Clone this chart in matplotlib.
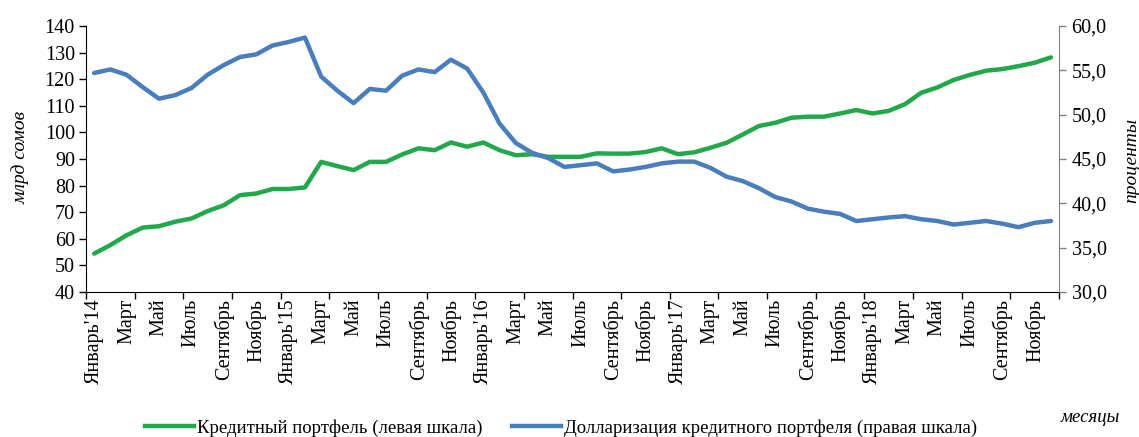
import matplotlib.pyplot as plt
from matplotlib.ticker import FixedLocator, FuncFormatter
from matplotlib.lines import Line2D

plt.rcParams["font.family"] = ["Liberation Serif", "DejaVu Serif"]

# ── Данные ───────────────────────────────────────────────────────────────────
month_labels = ["Январь'14", "Март", "Май", "Июль", "Сентябрь", "Ноябрь",
                "Январь'15", "Март", "Май", "Июль", "Сентябрь", "Ноябрь",
                "Январь'16", "Март", "Май", "Июль", "Сентябрь", "Ноябрь",
                "Январь'17", "Март", "Май", "Июль", "Сентябрь", "Ноябрь",
                "Январь'18", "Март", "Май", "Июль", "Сентябрь", "Ноябрь"]

# кредитный портфель, млрд сомов (левая шкала), январь 2014 – декабрь 2018
credit = [54.4, 57.6, 61.3, 64.2, 64.7, 66.4, 67.6, 70.4, 72.6, 76.4,
          77.0, 78.7, 78.7, 79.3, 88.9, 87.3, 85.8, 88.9, 88.9, 91.7,
          94.0, 93.3, 96.2, 94.6, 96.2, 93.3, 91.4, 91.8, 90.8, 90.8,
          90.8, 92.1, 92.0, 92.0, 92.6, 94.0, 91.8, 92.5, 94.2, 96.1,
          99.2, 102.4, 103.6, 105.5, 105.9, 105.9, 107.1, 108.4, 107.1, 108.1,
          110.6, 114.9, 116.9, 119.7, 121.6, 123.2, 123.8, 124.9, 126.2, 128.2]

# долларизация кредитного портфеля, % (правая шкала)
dollar = [54.7, 55.1, 54.5, 53.1, 51.8, 52.2, 53.0, 54.5, 55.6, 56.5,
          56.8, 57.8, 58.2, 58.7, 54.3, 52.7, 51.3, 52.9, 52.7, 54.4,
          55.1, 54.8, 56.2, 55.2, 52.5, 49.0, 46.8, 45.7, 45.1, 44.1,
          44.3, 44.5, 43.6, 43.8, 44.1, 44.5, 44.7, 44.7, 44.0, 43.0,
          42.5, 41.7, 40.7, 40.2, 39.4, 39.05, 38.8, 38.0, 38.2, 38.4,
          38.55, 38.2, 38.0, 37.6, 37.8, 38.0, 37.7, 37.3, 37.8, 38.0]

GREEN = "#22a84b"
BLUE = "#4a7ebb"
FS = 13.5      # легенда и подписи осей
TFS = 14.5     # подписи делений

# ── График ───────────────────────────────────────────────────────────────────
fig = plt.figure(figsize=(11.39, 4.37), dpi=100)
ax = fig.add_axes([0.0755, 0.332, 0.8543, 0.6085])
ax2 = ax.twinx()

x = list(range(len(credit)))
ax.plot(x, credit, color=GREEN, linewidth=3.2, solid_capstyle="round")
ax2.plot(x, dollar, color=BLUE, linewidth=3.2, solid_capstyle="round")

ax.set_xlim(-0.5, len(credit) - 0.5)
ax.set_ylim(40, 140)
ax.set_yticks(range(40, 141, 10))
ax2.set_ylim(30, 60)
ax2.set_yticks(range(30, 61, 5))
ax2.yaxis.set_major_formatter(FuncFormatter(lambda v, p: f"{v:.1f}".replace(".", ",")))

# подписи месяцев через один, засечки — каждые три месяца
ax.xaxis.set_major_locator(FixedLocator(list(range(0, len(credit), 2))))
ax.set_xticklabels(month_labels, rotation=90, fontsize=TFS)
ax.tick_params(axis="x", which="major", length=0, pad=5)
ax.xaxis.set_minor_locator(FixedLocator([-0.5 + 3 * k for k in range(21)]))
ax.tick_params(axis="x", which="minor", length=5, width=1, direction="out", color="black")

ax.tick_params(axis="y", labelsize=TFS, length=5, width=1, direction="out", pad=3)
ax2.tick_params(axis="y", labelsize=TFS, length=5, width=1, direction="out",
                color="#808080", pad=4)

for a in (ax, ax2):
    a.spines["top"].set_visible(False)
ax.spines["right"].set_visible(False)
ax2.spines["left"].set_visible(False)
ax2.spines["bottom"].set_visible(False)
ax2.spines["right"].set_color("#808080")
ax.spines["left"].set_color("black")
ax.spines["bottom"].set_color("black")

fig.text(0.018, 0.64, "млрд сомов", rotation=90, style="italic",
         fontsize=14, ha="center", va="center")
fig.text(0.994, 0.634, "проценты", rotation=90, style="italic",
         fontsize=14, ha="center", va="center")
fig.text(0.957, 0.045, "месяцы", style="italic", fontsize=FS,
         ha="center", va="center")

handles = [Line2D([], [], color=GREEN, linewidth=3.2),
           Line2D([], [], color=BLUE, linewidth=3.2)]
fig.legend(handles, ["Кредитный портфель (левая шкала)",
                     "Долларизация кредитного портфеля (правая шкала)"],
           loc="center", bbox_to_anchor=(0.4925, 0.021), ncol=2, frameon=False,
           fontsize=FS, handlelength=2.6, handletextpad=0.15, columnspacing=1.6)

fig.savefig("out.png", dpi=100)
